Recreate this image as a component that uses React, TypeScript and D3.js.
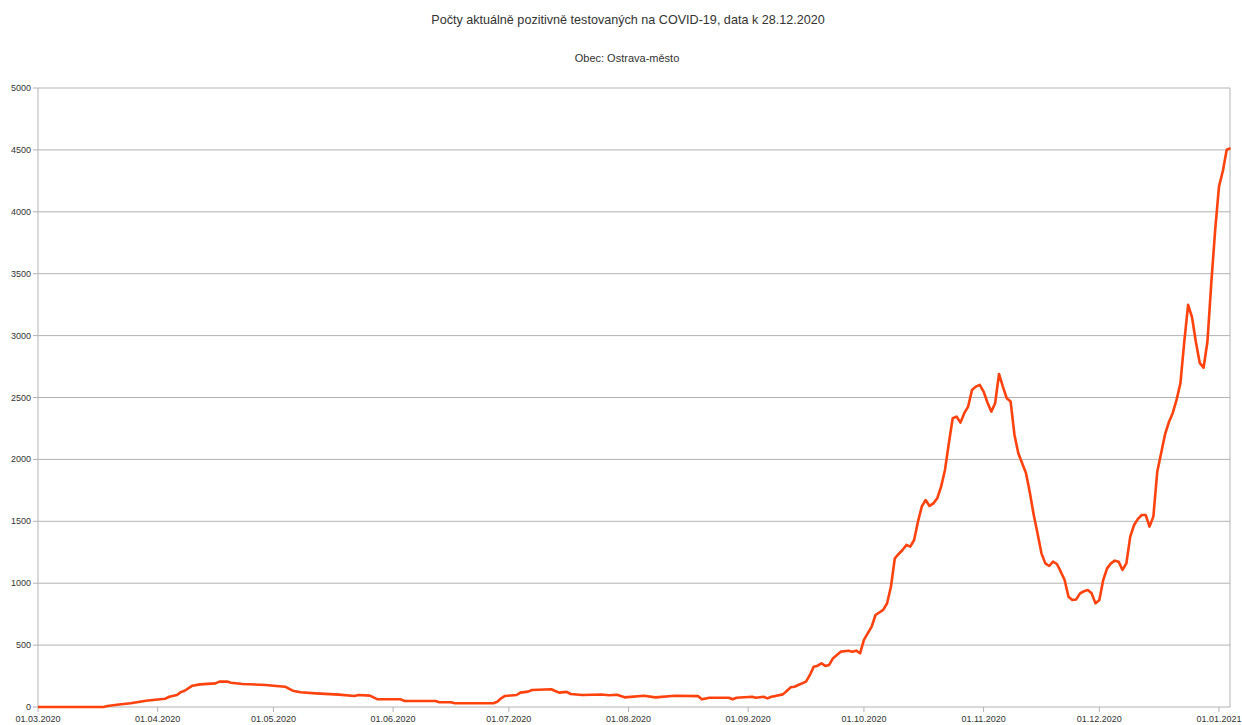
import React from "react";
import * as d3 from "d3";

const title = "Počty aktuálně pozitivně testovaných na COVID-19, data k 28.12.2020";
const subtitle = "Obec: Ostrava-město";

const dates = [
  "01.03.2020", "18.03.2020", "19.03.2020", "22.03.2020", "25.03.2020", "27.03.2020", "29.03.2020",
  "01.04.2020", "03.04.2020", "04.04.2020", "06.04.2020", "07.04.2020", "08.04.2020", "10.04.2020",
  "12.04.2020", "16.04.2020", "17.04.2020", "19.04.2020", "20.04.2020", "23.04.2020", "29.04.2020",
  "01.05.2020", "04.05.2020", "06.05.2020", "08.05.2020", "12.05.2020", "18.05.2020", "22.05.2020",
  "23.05.2020", "26.05.2020", "28.05.2020", "03.06.2020", "04.06.2020", "12.06.2020", "13.06.2020",
  "16.06.2020", "17.06.2020", "27.06.2020", "28.06.2020", "29.06.2020", "30.06.2020", "03.07.2020",
  "04.07.2020", "06.07.2020", "07.07.2020", "12.07.2020", "13.07.2020", "14.07.2020", "16.07.2020",
  "17.07.2020", "20.07.2020", "25.07.2020", "27.07.2020", "29.07.2020", "31.07.2020", "05.08.2020",
  "08.08.2020", "13.08.2020", "19.08.2020", "20.08.2020", "22.08.2020", "27.08.2020", "28.08.2020",
  "29.08.2020", "02.09.2020", "03.09.2020", "05.09.2020", "06.09.2020", "07.09.2020", "08.09.2020",
  "10.09.2020", "11.09.2020", "12.09.2020", "13.09.2020", "14.09.2020", "16.09.2020", "17.09.2020",
  "18.09.2020", "19.09.2020", "20.09.2020", "21.09.2020", "22.09.2020", "23.09.2020", "24.09.2020",
  "25.09.2020", "27.09.2020", "28.09.2020", "29.09.2020", "30.09.2020", "01.10.2020", "03.10.2020",
  "04.10.2020", "06.10.2020", "07.10.2020", "08.10.2020", "09.10.2020", "10.10.2020", "11.10.2020",
  "12.10.2020", "13.10.2020", "14.10.2020", "15.10.2020", "16.10.2020", "17.10.2020", "18.10.2020",
  "19.10.2020", "20.10.2020", "21.10.2020", "22.10.2020", "23.10.2020", "24.10.2020", "25.10.2020",
  "26.10.2020", "27.10.2020", "28.10.2020", "29.10.2020", "30.10.2020", "31.10.2020", "01.11.2020",
  "02.11.2020", "03.11.2020", "04.11.2020", "05.11.2020", "06.11.2020", "07.11.2020", "08.11.2020",
  "09.11.2020", "10.11.2020", "11.11.2020", "12.11.2020", "13.11.2020", "14.11.2020", "15.11.2020",
  "16.11.2020", "17.11.2020", "18.11.2020", "19.11.2020", "20.11.2020", "21.11.2020", "22.11.2020",
  "23.11.2020", "24.11.2020", "25.11.2020", "26.11.2020", "27.11.2020", "28.11.2020", "29.11.2020",
  "30.11.2020", "01.12.2020", "02.12.2020", "03.12.2020", "04.12.2020", "05.12.2020", "06.12.2020",
  "07.12.2020", "08.12.2020", "09.12.2020", "10.12.2020", "11.12.2020", "12.12.2020", "13.12.2020",
  "14.12.2020", "15.12.2020", "16.12.2020", "17.12.2020", "18.12.2020", "19.12.2020", "20.12.2020",
  "21.12.2020", "22.12.2020", "23.12.2020", "24.12.2020", "25.12.2020", "26.12.2020", "27.12.2020",
  "28.12.2020", "29.12.2020", "30.12.2020", "31.12.2020", "01.01.2021", "02.01.2021", "03.01.2021",
  "04.01.2021",
];

const positives = [
  0, 0, 8, 20, 30, 40, 50,
  60, 67, 83, 97, 120, 131, 172,
  183, 191, 205, 205, 196, 186, 178,
  172, 164, 132, 119, 110, 100, 89,
  97, 92, 62, 62, 48, 48, 38,
  38, 30, 30, 43, 70, 89, 97,
  116, 124, 137, 143, 129, 116, 122,
  105, 97, 101, 95, 99, 78, 91,
  78, 91, 88, 62, 75, 75, 62,
  75, 83, 75, 83, 70, 83, 88,
  102, 129, 159, 164, 178, 205, 259,
  326, 334, 353, 332, 340, 394, 420,
  447, 455, 447, 455, 434, 542, 649,
  743, 784, 838, 972, 1201, 1236, 1268,
  1309, 1295, 1349, 1497, 1620, 1672, 1624,
  1645, 1686, 1780, 1915, 2130, 2332, 2346,
  2297, 2373, 2427, 2560, 2588, 2602, 2548,
  2460, 2386, 2454, 2690, 2588, 2494, 2467,
  2200, 2050, 1969, 1888, 1730, 1550, 1400,
  1241, 1160, 1139, 1174, 1155, 1093, 1026,
  891, 864, 869, 918, 935, 945, 918,
  837, 864, 1026, 1120, 1160, 1182, 1174,
  1107, 1160, 1376, 1470, 1520, 1551, 1551,
  1457, 1540, 1900, 2050, 2200, 2300, 2373,
  2481, 2615, 2950, 3249, 3150, 2950, 2780,
  2740, 2950, 3424, 3850, 4205, 4330, 4501,
  4514,
];

const xTickLabels = [
  "01.03.2020", "01.04.2020", "01.05.2020", "01.06.2020", "01.07.2020", "01.08.2020",
  "01.09.2020", "01.10.2020", "01.11.2020", "01.12.2020", "01.01.2021",
];
const yTicks = [0, 500, 1000, 1500, 2000, 2500, 3000, 3500, 4000, 4500, 5000];

const W = 1242;
const H = 725;
const margin = { top: 88, right: 12, bottom: 18, left: 38 };
const font = "'Liberation Sans', Arial, sans-serif";

export default function App() {
  const parse = d3.timeParse("%d.%m.%Y");
  const data = dates.map((d, i) => ({ date: parse(d) as Date, value: positives[i] }));

  const x = d3
    .scaleTime()
    .domain([parse("01.03.2020") as Date, parse("01.01.2021") as Date])
    .range([margin.left, 1219]);
  const y = d3.scaleLinear().domain([0, 5000]).range([H - margin.bottom, margin.top]);

  const line = d3
    .line<{ date: Date; value: number }>()
    .x((d) => x(d.date))
    .y((d) => y(d.value));

  const right = W - margin.right;
  const bottom = y(0);

  return (
    <svg width={W} height={H} style={{ position: "absolute", left: 0, top: 0, background: "#fff" }}>
      <text x={W / 2 + 7} y={24} textAnchor="middle" fontFamily={font} fontSize={12.6} fill="#333">
        {title}
      </text>
      <text x={W / 2 + 6} y={62} textAnchor="middle" fontFamily={font} fontSize={11} fill="#333">
        {subtitle}
      </text>

      {yTicks.map((t) => (
        <g key={t}>
          <line x1={margin.left} x2={right} y1={y(t)} y2={y(t)} stroke="#b3b3b3" strokeWidth={1} />
          <line x1={margin.left - 5} x2={margin.left} y1={y(t)} y2={y(t)} stroke="#b3b3b3" />
          <text x={margin.left - 7} y={y(t) + 3} textAnchor="end" fontFamily={font} fontSize={9} fill="#333">
            {t}
          </text>
        </g>
      ))}

      <line x1={margin.left} x2={margin.left} y1={margin.top} y2={bottom} stroke="#b3b3b3" />
      <line x1={right} x2={right} y1={margin.top} y2={bottom} stroke="#b3b3b3" />

      {xTickLabels.map((l) => {
        const px = x(parse(l) as Date);
        return (
          <g key={l}>
            <line x1={px} x2={px} y1={bottom} y2={bottom + 5} stroke="#b3b3b3" />
            <text x={px} y={bottom + 15} textAnchor="middle" fontFamily={font} fontSize={9} fill="#333">
              {l}
            </text>
          </g>
        );
      })}

      <path d={line(data) ?? ""} fill="none" stroke="#ff420e" strokeWidth={2.6} strokeLinejoin="round" />
    </svg>
  );
}
